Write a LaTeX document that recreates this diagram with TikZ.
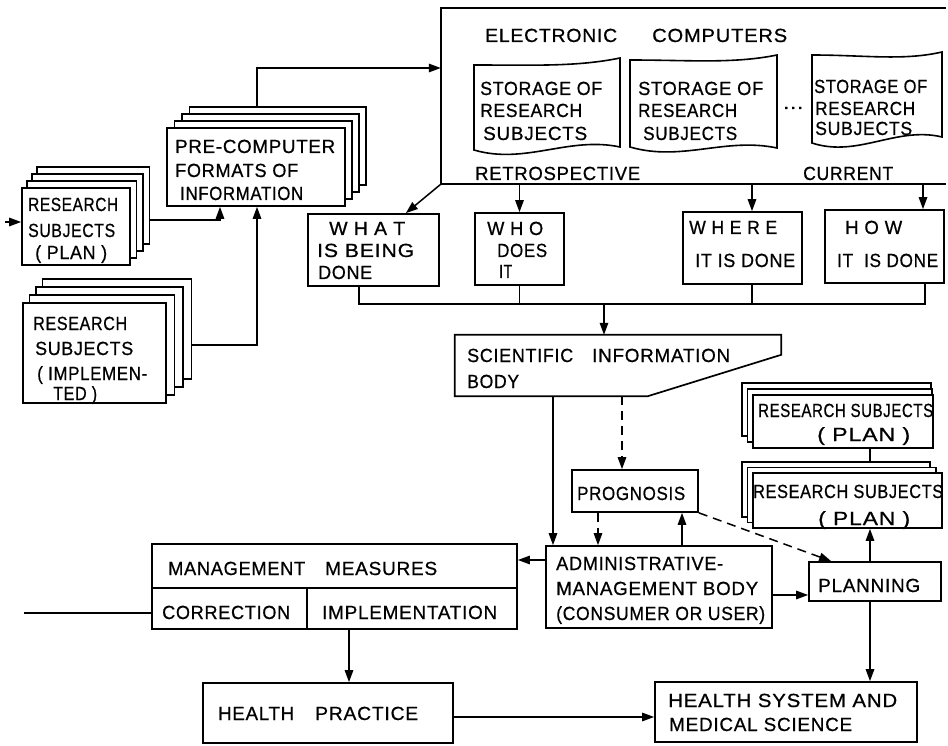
\documentclass[tikz,border=0pt]{standalone}
\usepackage{fontspec}
\setmainfont{Liberation Sans}[LetterSpace=4]
\newfontfamily\lettering{Liberation Sans}[LetterSpace=4,FakeBold=0.7]
\usepackage{graphicx}
\usetikzlibrary{arrows.meta,fit}

% one line of lettering, stretched to a given width
\newcommand{\lbl}[5]{\node[lbl] (#1) at (#2,#3) {\resizebox{#4pt}{\height}{#5}};}
% a rectangle given by two corners
\newcommand{\boxat}[6]{\node[#6, fit={(#2,#3) (#4,#5)}] (#1) {};}
% a storage sheet with wavy top and bottom edges
\newcommand{\storage}[7]{%
  \node[ghost, fit={(#2,#4) (#3,#6)}] (#1) {};
  \draw[line width=1.6pt] (#2,#4) -- (#2,#6)
    .. controls ({#2+0.35*(#3-#2)},{#6+15}) and ({#2+0.65*(#3-#2)},{#7-11}) .. (#3,#7)
    -- (#3,#5)
    .. controls ({#3-0.3*(#3-#2)},{#5+9}) and ({#2+0.4*(#3-#2)},{#4}) .. (#2,#4) -- cycle;}

\begin{document}
\begin{tikzpicture}[x=1pt,y=-1pt,
  lbl/.style={anchor=base west, inner sep=0pt, font=\lettering\fontsize{19}{22}\selectfont},
  frame/.style={draw, line width=1.7pt, inner sep=0pt, fill=white},
  ghost/.style={inner sep=0pt},
  conn/.style={line width=1.5pt},
  arr/.style={conn, -{Triangle[length=12pt,width=8.5pt]}},
  dsh/.style={dash pattern=on 9pt off 6pt},
]
\fill[white] (0,0) rectangle (948,746);
\useasboundingbox (0,0) rectangle (948,746);

% ---------- electronic computers ----------
\boxat{ec}{441}{8}{946}{184}{ghost}
\draw[line width=1.7pt] (ec.north east) -- (ec.north west) -- (ec.south west) -- (ec.south east);
\storage{st1}{474}{620}{65}{58}{150}{147}
\storage{st2}{630}{777}{60}{55}{147}{148}
\storage{st3}{812}{942}{55}{52}{143}{137}

% ---------- stacked sheets on the left ----------
\boxat{planL3}{37}{167}{149.5}{244}{frame}
\boxat{planL2}{32}{174}{143}{251}{frame}
\boxat{planL1}{27}{181}{136.5}{258}{frame}
\boxat{plan}{22}{188}{130}{265}{frame}

\boxat{preL3}{189.5}{107}{366}{185}{frame}
\boxat{preL2}{182}{114}{359}{192}{frame}
\boxat{preL1}{174.5}{121}{352}{199}{frame}
\boxat{pre}{167}{128}{345}{206}{frame}

\boxat{implL3}{42.5}{279}{191.5}{379}{frame}
\boxat{implL2}{36}{287}{183}{387}{frame}
\boxat{implL1}{29.5}{295}{174.5}{395}{frame}
\boxat{impl}{23}{303}{166}{403}{frame}

% ---------- question boxes ----------
\boxat{what}{308}{214}{439}{286}{frame}
\boxat{who}{475}{213}{564}{285}{frame}
\boxat{where}{683}{212}{802}{284}{frame}
\boxat{how}{825}{210}{944}{283}{frame}

% ---------- scientific information body ----------
\boxat{sci}{455}{335}{781}{396}{ghost}
\draw[line width=1.7pt] (sci.north west) -- (sci.north east) -- ([yshift=-20pt]sci.north east)
  -- ([xshift=193pt]sci.south west) -- (sci.south west) -- cycle;

% ---------- stacked plans on the right ----------
\boxat{rs1L2}{742}{383}{931}{436}{frame}
\boxat{rs1L1}{747.5}{389}{932}{442}{frame}
\boxat{rs1}{753}{395}{933}{448}{frame}
\boxat{rs2L2}{742}{462}{930}{517}{frame}
\boxat{rs2L1}{747.5}{467.5}{936}{522.5}{frame}
\boxat{rs2}{753}{473}{942}{528}{frame}

% ---------- lower boxes ----------
\boxat{prog}{572}{470}{698}{512}{frame}
\boxat{admin}{546}{546}{772}{628}{frame}
\boxat{planning}{809}{562}{941}{601}{frame}
\boxat{mgtop}{152}{544}{517}{588}{frame}
\boxat{corr}{152}{588}{307}{629}{frame}
\boxat{implc}{307}{588}{517}{629}{frame}
\boxat{hp}{203}{683}{453}{743}{frame}
\boxat{hs}{655}{682}{917}{742}{frame}

% ---------- lettering ----------
\lbl{tEc1}{485}{42}{132}{ELECTRONIC}
\lbl{tEc2}{652}{42}{135}{COMPUTERS}
\lbl{tS1a}{480}{95}{122}{STORAGE OF}
\lbl{tS1b}{480}{117}{102}{RESEARCH}
\lbl{tS1c}{483}{140}{104}{SUBJECTS}
\lbl{tS2a}{638}{95}{125}{STORAGE OF}
\lbl{tS2b}{638}{117}{99}{RESEARCH}
\lbl{tS2c}{643}{140}{94}{SUBJECTS}
\lbl{tS3a}{814}{93}{113}{STORAGE OF}
\lbl{tS3b}{815}{115}{100}{RESEARCH}
\lbl{tS3c}{815}{135}{97}{SUBJECTS}
\lbl{tDots}{783}{109}{20}{...}
\lbl{tRetro}{475}{180}{165}{RETROSPECTIVE}
\lbl{tCur}{803}{180}{90}{CURRENT}
\lbl{tPre1}{175}{153}{160}{PRE-COMPUTER}
\lbl{tPre2}{175}{177}{123}{FORMATS OF}
\lbl{tPre3}{180}{200}{123}{INFORMATION}
\lbl{tPl1}{28}{211}{90}{RESEARCH}
\lbl{tPl2}{28}{237}{87}{SUBJECTS}
\lbl{tPl3}{35}{259}{72}{( PLAN )}
\lbl{tIm1}{33}{330}{94}{RESEARCH}
\lbl{tIm2}{35}{355}{98}{SUBJECTS}
\lbl{tIm3}{37}{380}{110}{( IMPLEMEN-}
\lbl{tIm4}{53}{400}{44}{TED )}
\lbl{tWhat1}{329}{235}{76}{W H A T}
\lbl{tWhat2}{317}{257}{97}{IS BEING}
\lbl{tWhat3}{318}{279}{54}{DONE}
\lbl{tWho1}{487}{235}{56}{W H O}
\lbl{tWho2}{497}{257}{50}{DOES}
\lbl{tWho3}{499}{278}{13}{IT}
\lbl{tWhere1}{689}{234}{88}{W H E R E}
\lbl{tWhere2}{695}{267}{100}{IT IS DONE}
\lbl{tHow1}{845}{234}{57}{H O W}
\lbl{tHow2}{837}{267}{101}{IT\ \ IS DONE}
\lbl{tSci1}{467}{362}{106}{SCIENTIFIC}
\lbl{tSci2}{592}{362}{138}{INFORMATION}
\lbl{tSci3}{467}{388}{52}{BODY}
\lbl{tProg}{577}{500}{108}{PROGNOSIS}
\lbl{tRs1a}{758}{417}{175}{RESEARCH SUBJECTS}
\lbl{tRs1b}{817}{441}{93}{( PLAN )}
\lbl{tRs2a}{753}{498}{190}{RESEARCH SUBJECTS}
\lbl{tRs2b}{818}{525}{92}{( PLAN )}
\lbl{tMg1}{168}{575}{137}{MANAGEMENT}
\lbl{tMg2}{325}{575}{112}{MEASURES}
\lbl{tCorr}{162}{619}{128}{CORRECTION}
\lbl{tImpl}{322}{619}{175}{IMPLEMENTATION}
\lbl{tHp1}{218}{720}{76}{HEALTH}
\lbl{tHp2}{315}{720}{103}{PRACTICE}
\lbl{tAd1}{556}{570}{167}{ADMINISTRATIVE-}
\lbl{tAd2}{556}{595}{202}{MANAGEMENT BODY}
\lbl{tAd3}{556}{620}{209}{(CONSUMER OR USER)}
\lbl{tPlan}{818}{592}{102}{PLANNING}
\lbl{tHs1}{668}{707}{229}{HEALTH SYSTEM AND}
\lbl{tHs2}{669}{731}{183}{MEDICAL SCIENCE}

% ---------- connectors ----------
\coordinate (inA) at (5,222);
\draw[arr] (inA) -- (inA -| plan.west);
\coordinate (jP) at (220,220);
\draw[arr] (planL3.east |- jP) -| (pre.south -| jP);
\coordinate (jI) at (257,345);
\draw[arr] (implL3.east |- jI) -| (pre.south -| jI);
\coordinate (jE) at (257,68);
\draw[arr] (preL3.north -| jE) |- (ec.west |- jE);

\draw[arr] (ec.south west) -- ([xshift=-34pt]what.north east);
\draw[arr] (who.north |- ec.south) -- (who.north);
\coordinate (kWh) at (752,0);
\coordinate (kHo) at (923,0);
\draw[arr] (ec.south -| kWh) -- (where.north -| kWh);
\draw[arr] (ec.south -| kHo) -- (how.north -| kHo);

\coordinate (busL) at (359,304);
\coordinate (busR) at (925,304);
\draw[conn] (what.south -| busL) -- (busL) -- (busR) -- (how.south -| busR);
\draw[conn] (who.south) -- (who.south |- busL);
\draw[conn] (where.south -| kWh) -- (busL -| kWh);
\coordinate (kS) at (604,304);
\draw[arr] (kS) -- (kS |- sci.north);

\coordinate (kA) at (553,0);
\coordinate (kP) at (622,0);
\coordinate (kD) at (598,0);
\coordinate (kU) at (682,0);
\draw[arr] (sci.south -| kA) -- (admin.north -| kA);
\draw[arr,dsh] (sci.south -| kP) -- (prog.north -| kP);
\draw[arr,dsh] (prog.south -| kD) -- (admin.north -| kD);
\draw[arr] (admin.north -| kU) -- (prog.south -| kU);
\draw[arr,dsh] (prog.south east) -- ([xshift=23pt]planning.north west);

\coordinate (yAP) at (0,595);
\draw[arr] (admin.east |- yAP) -- (planning.west |- yAP);
\coordinate (yAM) at (0,560);
\draw[arr] (admin.west |- yAM) -- (mgtop.east |- yAM);
\coordinate (inM) at (24,613);
\draw[conn] (inM) -- (inM -| corr.west);
\coordinate (kI) at (349,0);
\draw[arr] (implc.south -| kI) -- (hp.north -| kI);
\coordinate (yH) at (0,717);
\draw[arr] (hp.east |- yH) -- (hs.west |- yH);
\coordinate (kPl) at (870,0);
\draw[arr] (planning.south -| kPl) -- (hs.north -| kPl);
\draw[arr] (planning.north -| kPl) -- (rs2.south -| kPl);
\draw[conn] (rs1.south -| kPl) -- (rs2L2.north -| kPl);
\end{tikzpicture}
\end{document}
